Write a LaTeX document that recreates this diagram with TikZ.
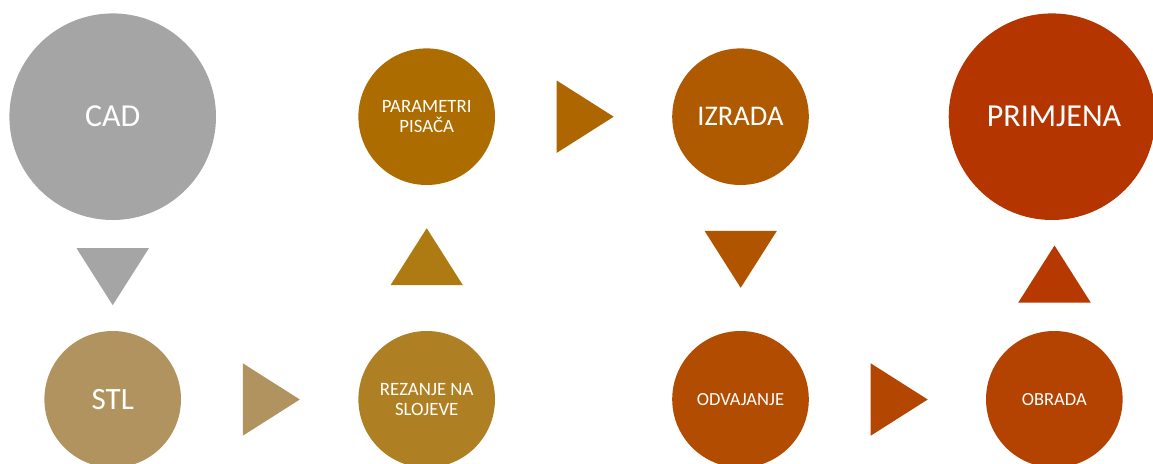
\documentclass[tikz,border=0pt]{standalone}
\usepackage{fontspec}
\setmainfont{Carlito}
\usepackage{tikz}
\usetikzlibrary{positioning}

\definecolor{cadgray}{HTML}{A5A5A5}
\definecolor{stltan}{HTML}{B0935E}
\definecolor{rezgold}{HTML}{AF7F24}
\definecolor{rezup}{HTML}{AE7A12}
\definecolor{parbrown}{HTML}{AC6C00}
\definecolor{parright}{HTML}{AD6600}
\definecolor{izrorange}{HTML}{AF5A00}
\definecolor{izrdown}{HTML}{B05400}
\definecolor{odvrust}{HTML}{B24C00}
\definecolor{odvright}{HTML}{B34600}
\definecolor{obrrust}{HTML}{B44200}
\definecolor{obrup}{HTML}{B53900}
\definecolor{prired}{HTML}{B43500}

\begin{document}
\begin{tikzpicture}[
    x=1pt, y=1pt,
    step_circle/.style={circle, inner sep=0pt, minimum size=136.6pt, align=center, text=white},
    big_circle/.style={circle, inner sep=0pt, minimum size=206.6pt, align=center, text=white},
    tri/.pic={\fill[pic actions] (-28.5,-36.2) -- (28.5,0) -- (-28.5,36.2) -- cycle;}
]
\useasboundingbox (0,0) rectangle (1153,-463);

% Circles
\node[big_circle, fill=cadgray, font=\fontsize{32}{32}\selectfont] (cad) at (112.7,-116.7) {CAD};
\node[step_circle, fill=stltan, font=\fontsize{31}{31}\selectfont] (stl) at (112.7,-399.3) {STL};
\node[step_circle, fill=rezgold, font=\fontsize{18.8}{19.7}\selectfont] (rezanje) at (426.7,-399.3) {REZANJE NA\\SLOJEVE};
\node[step_circle, fill=parbrown, font=\fontsize{18.8}{19.7}\selectfont] (parametri) at (426.7,-116.7) {PARAMETRI\\PISAČA};
\node[step_circle, fill=izrorange, font=\fontsize{28.5}{28.5}\selectfont] (izrada) at (740.5,-116.7) {IZRADA};
\node[step_circle, fill=odvrust, font=\fontsize{18.5}{18.5}\selectfont] (odvajanje) at (740.5,-399.3) {ODVAJANJE};
\node[step_circle, fill=obrrust, font=\fontsize{18.5}{18.5}\selectfont] (obrada) at (1054.3,-399.3) {OBRADA};
\node[big_circle, fill=prired, font=\fontsize{32}{32}\selectfont] (primjena) at (1052,-116.7) {\hspace{4pt}PRIMJENA};

% Triangles between steps
\pic[fill=cadgray, rotate=-90] at (112.7,-276.7) {tri};
\pic[fill=stltan] at (271.3,-399.5) {tri};
\pic[fill=rezup, rotate=90] at (426.7,-256.7) {tri};
\pic[fill=parright] at (585.2,-116.7) {tri};
\pic[fill=izrdown, rotate=-90] at (740.7,-259.3) {tri};
\pic[fill=odvright] at (899.2,-399.5) {tri};
\pic[fill=obrup, rotate=90] at (1054.5,-274) {tri};

\end{tikzpicture}
\end{document}
